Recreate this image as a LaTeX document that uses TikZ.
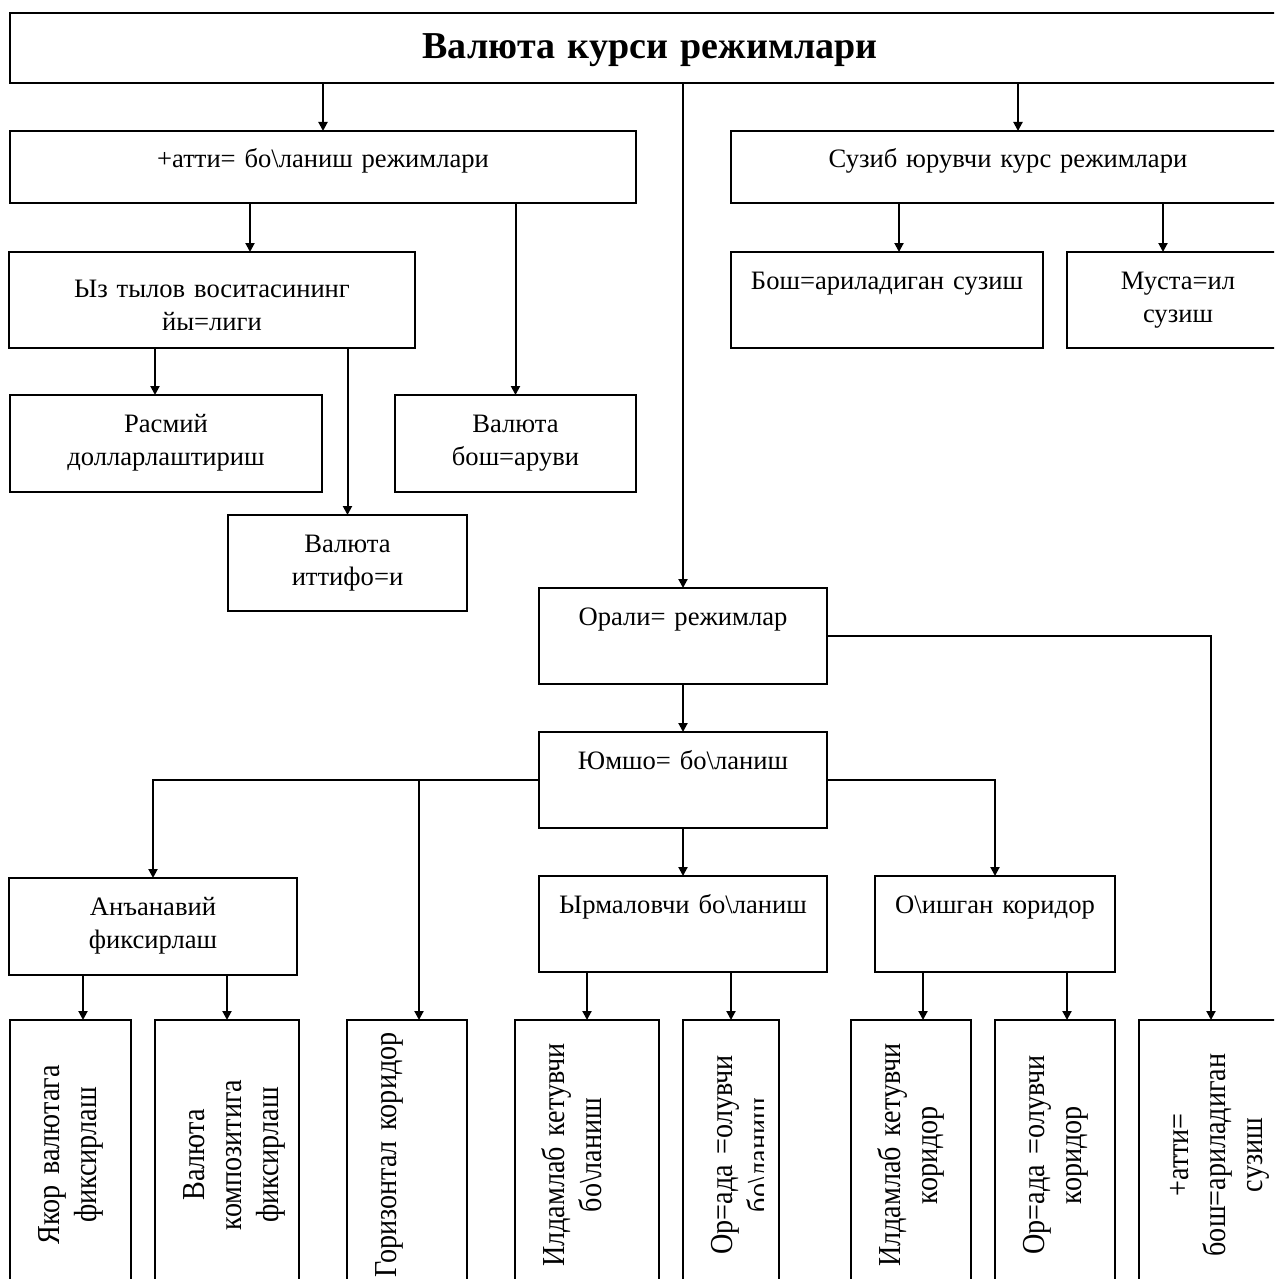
\documentclass[tikz,border=0pt]{standalone}
\usepackage{fontspec}
\setmainfont{Liberation Serif}
\newfontfamily\vertfont[FakeStretch=0.88]{Liberation Serif}
\usetikzlibrary{arrows.meta}
\tikzset{
	box/.style = {draw, line width=1.3pt, inner sep=0pt, outer sep=0pt, align=center, text height=18.5pt, font=\fontsize{13.3}{16.5}\selectfont},
	vbox/.style = {box, rotate=90, text width=135pt, text height=24.5pt, font=\vertfont\fontsize{16}{18.5}\selectfont},
	arr/.style = {-{Triangle[length=4.5pt, width=4.5pt]}, line width=1pt},
}
\newcommand\bs{\textbackslash}

\begin{document}
\begin{tikzpicture}[x=0.5pt, y=-0.5pt]
	\useasboundingbox (0,0) rectangle (1274,1279);
	\clip (0,0) rectangle (1274,1279);
	% upper part
	\node[box, text width=640pt, text height=23pt, text depth=12pt, font=\bfseries\fontsize{19}{22}\selectfont] (title) at (650,48) {Валюта курси режимлари};
	\node[box, text width=313pt, text depth=17.5pt] (fixed) at (323,167) {+атти= бо\bs ланиш режимлари};
	\node[box, text width=277pt, text depth=17.5pt] (float) at (1008,167) {Сузиб юрувчи курс режимлари};
	\node[box, text width=203pt, text height=22.5pt, text depth=25.5pt] (ozdollar) at (212,300) {Ыз тылов воситасининг\\йы=лиги};
	\node[box, text width=156pt, text depth=29.5pt] (boshfloat) at (887,300) {Бош=ариладиган сузиш};
	\node[box, text width=111pt, text depth=29.5pt] (mustaqil) at (1178,300) {Муста=ил\\сузиш};
	\node[box, text width=156pt, text depth=30pt] (rasmiy) at (166,443.5) {Расмий\\долларлаштириш};
	\node[box, text width=120.5pt, text depth=30pt] (boshqaruv) at (515.5,443.5) {Валюта\\бош=аруви};
	\node[box, text width=119.5pt, text depth=29.5pt] (ittifoq) at (347.5,563) {Валюта\\иттифо=и};
	% middle part
	\node[box, text width=144pt, text depth=29.5pt] (orali) at (683,636) {Орали= режимлар};
	\node[box, text width=144pt, text depth=29.5pt] (yumshoq) at (683,780) {Юмшо= бо\bs ланиш};
	\node[box, text width=144pt, text depth=30pt] (anana) at (153,926.5) {Анъанавий\\фиксирлаш};
	\node[box, text width=144pt, text depth=29.5pt] (ormalovchi) at (683,924) {Ырмаловчи бо\bs ланиш};
	\node[box, text width=120pt, text depth=29.5pt] (oshgan) at (995,924) {О\bs ишган коридор};
	% bottom row
	\node[vbox, text depth=36pt] (b1) at (70.5,1155) {Якор валютага\\фиксирлаш};
	\node[vbox, text depth=47.5pt] (b2) at (227,1155) {Валюта\\композитига\\фиксирлаш};
	\node[vbox, text depth=35.5pt] (b3) at (407,1155) {Горизонтал коридор};
	\node[vbox, text depth=47.5pt] (b4) at (587,1155) {Илдамлаб кетувчи\\бо\bs ланиш};
	\begin{scope}
		\clip (670,1000) rectangle (763,1300);
		\node[vbox, draw=none, text depth=23.5pt] (b5) at (731,1155) {Ор=ада =олувчи\\бо\bs ланиш};
	\end{scope}
	\draw[line width=1.3pt] (b5.south west) rectangle (b5.north east);
	\node[vbox, text depth=35.5pt] (b6) at (911,1155) {Илдамлаб кетувчи\\коридор};
	\node[vbox, text depth=35.5pt] (b7) at (1055,1155) {Ор=ада =олувчи\\коридор};
	\node[vbox, text depth=47.5pt] (b8) at (1211,1155) {+атти=\\бош=ариладиган\\сузиш};
	% arrow columns
	\coordinate (xfloat) at (1018,0);
	\coordinate (xoz) at (250,0);
	\coordinate (xrasmiy) at (155,0);
	\coordinate (xboshf) at (899,0);
	\coordinate (xmust) at (1163,0);
	\coordinate (xgor) at (419,0);
	\coordinate (xyakor) at (83,0);
	\coordinate (xild) at (923,0);
	\coordinate (xorq) at (1067,0);
	% connectors
	\draw[arr] (title.south -| fixed.north) -- (fixed.north);
	\draw[arr] (title.south -| orali.north) -- (orali.north);
	\draw[arr] (title.south -| xfloat) -- (float.north -| xfloat);
	\draw[arr] (fixed.south -| xoz) -- (ozdollar.north -| xoz);
	\draw[arr] (fixed.south -| boshqaruv.north) -- (boshqaruv.north);
	\draw[arr] (ozdollar.south -| xrasmiy) -- (rasmiy.north -| xrasmiy);
	\draw[arr] (ozdollar.south -| ittifoq.north) -- (ittifoq.north);
	\draw[arr] (float.south -| xboshf) -- (boshfloat.north -| xboshf);
	\draw[arr] (float.south -| xmust) -- (mustaqil.north -| xmust);
	\draw[arr] (orali.south) -- (yumshoq.north);
	\draw[arr] (orali.east) -| (b8.east);
	\draw[arr] (yumshoq.west) -| (anana.north);
	\draw[arr] (yumshoq.west -| xgor) -- (b3.east -| xgor);
	\draw[arr] (yumshoq.east) -| (oshgan.north);
	\draw[arr] (yumshoq.south) -- (ormalovchi.north);
	\draw[arr] (anana.south -| xyakor) -- (b1.east -| xyakor);
	\draw[arr] (anana.south -| b2.east) -- (b2.east);
	\draw[arr] (ormalovchi.south -| b4.east) -- (b4.east);
	\draw[arr] (ormalovchi.south -| b5.east) -- (b5.east);
	\draw[arr] (oshgan.south -| xild) -- (b6.east -| xild);
	\draw[arr] (oshgan.south -| xorq) -- (b7.east -| xorq);
\end{tikzpicture}
\end{document}
